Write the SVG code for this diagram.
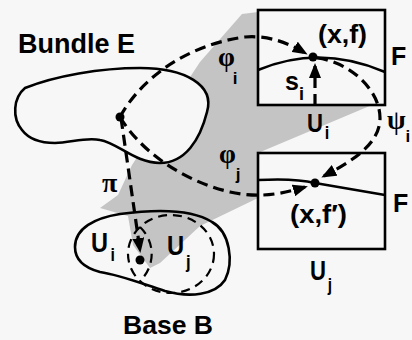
<svg xmlns="http://www.w3.org/2000/svg" width="412" height="340" viewBox="0 0 412 340">
<style>
.bg{fill:#f7f7f7}
.shade{fill:#c4c4c4}
.solid{fill:none;stroke:#000;stroke-width:2.6;stroke-linejoin:round}
.white{fill:#f7f7f7;stroke:#000;stroke-width:2.6}
.dash{fill:none;stroke:#000;stroke-width:3.2;stroke-dasharray:11 6}
.dashthin{fill:none;stroke:#000;stroke-width:2.2;stroke-dasharray:9 6}
.dot{fill:#000}
.lbl{font-family:"Liberation Sans",Arial,sans-serif;font-weight:bold;fill:#000}
.gr{font-family:"Liberation Serif","Times New Roman",serif;font-weight:bold;fill:#000}
.sub{font-family:"Liberation Sans",Arial,sans-serif;font-weight:bold}
</style>
<defs>
<marker id="ah" markerUnits="userSpaceOnUse" markerWidth="16" markerHeight="12" viewBox="0 0 16 12" refX="12" refY="6" orient="auto">
<path d="M0,0 L15,6 L0,12 Z" fill="#000" stroke="none"/>
</marker>
</defs>
<rect class="bg" x="0" y="0" width="412" height="340"/>
<polygon id="shading" class="shade" points="200,62 242,14 258,12 258,105 372,105 258,153 258,198 200,226 160,263 150,268 133,245 128,216 100,208 118,195 132,165"/>
<g id="bundleE">
<path class="white" d="M25,88 C55,76 100,68 140,68 C185,68 215,85 207,112 C200,140 185,163 160,163 C135,163 118,143 100,140 C85,137 70,143 55,143 C40,143 28,138 22,130 C12,118 13,98 25,88 Z"/>
<text class="lbl" x="18" y="53" font-size="27" textLength="117" lengthAdjust="spacingAndGlyphs">Bundle E</text>
</g>
<g id="baseB">
<path class="solid" d="M75,247 C75,228 95,218 120,214 C150,210 190,208 212,222 C230,232 234,262 225,280 C215,295 190,298 165,291 C140,283 120,275 100,272 C85,268 75,260 75,247 Z"/>
<path class="dashthin" d="M140,227 A42 39 0 0 1 140,281"/>
<ellipse class="dashthin" cx="171" cy="254" rx="43" ry="39"/>
<text class="lbl" transform="translate(91,252) scale(0.84,1)" font-size="28">U<tspan dx="3" dy="9" font-size="19">i</tspan></text>
<text class="lbl" transform="translate(167,255) scale(0.88,1)" font-size="27">U<tspan dx="2" dy="13" font-size="19">j</tspan></text>
<text class="lbl" x="123" y="334" font-size="26" textLength="90" lengthAdjust="spacingAndGlyphs">Base B</text>
</g>
<g id="fiberI">
<rect class="white" x="258" y="10" width="127" height="95"/>
<path class="solid" d="M258,70 Q320,44 385,72"/>
<text class="lbl" x="318" y="43" font-size="25" textLength="49" lengthAdjust="spacingAndGlyphs">(x,f)</text>
<text class="lbl" x="391" y="65" font-size="25">F</text>
<text class="lbl" x="285" y="90" font-size="25">s<tspan dx="0" dy="10" font-size="18">i</tspan></text>
<text class="lbl" transform="translate(307,132) scale(0.85,1)" font-size="26">U<tspan dx="2" dy="7" font-size="19">i</tspan></text>
</g>
<g id="fiberJ">
<rect class="white" x="258" y="153" width="127" height="96"/>
<path class="solid" d="M258,180 Q295,178 315,183 L385,195"/>
<text class="lbl" x="393" y="212" font-size="25">F</text>
<text class="lbl" x="290" y="223" font-size="25" textLength="57" lengthAdjust="spacingAndGlyphs">(x,f′)</text>
<text class="lbl" transform="translate(310,280) scale(0.82,1)" font-size="27">U<tspan dx="2" dy="11" font-size="19">j</tspan></text>
</g>
<g id="connectors">
<path class="dash" d="M120,117 C140,80 185,45 245,37 C270,35 290,44 305,53" marker-end="url(#ah)"/>
<path class="dash" d="M120,117 C140,150 180,180 230,192 C260,199 285,193 305,187" marker-end="url(#ah)"/>
<path class="dash" d="M317,58 C350,62 380,90 380,118 C380,145 350,162 324,176" marker-end="url(#ah)"/>
<path class="dash" d="M121,118 L140,250" marker-end="url(#ah)"/>
<path class="dash" d="M315,105 L315,66" marker-end="url(#ah)"/>
<text class="gr" x="218" y="66" font-size="27">φ<tspan class="sub" dx="-2" dy="18" font-size="17">i</tspan></text>
<text class="gr" x="219" y="163" font-size="27">φ<tspan class="sub" dx="0" dy="17" font-size="17">j</tspan></text>
<text class="gr" x="387" y="129" font-size="27">ψ<tspan class="sub" dx="0" dy="13" font-size="17">i</tspan></text>
<text class="gr" x="102" y="192" font-size="28">π</text>
</g>
<g id="points">
<circle class="dot" cx="120" cy="117" r="4.5"/>
<circle class="dot" cx="313" cy="57" r="4.5"/>
<circle class="dot" cx="315" cy="183" r="4.5"/>
<circle class="dot" cx="140" cy="260" r="4.5"/>
</g>
</svg>
